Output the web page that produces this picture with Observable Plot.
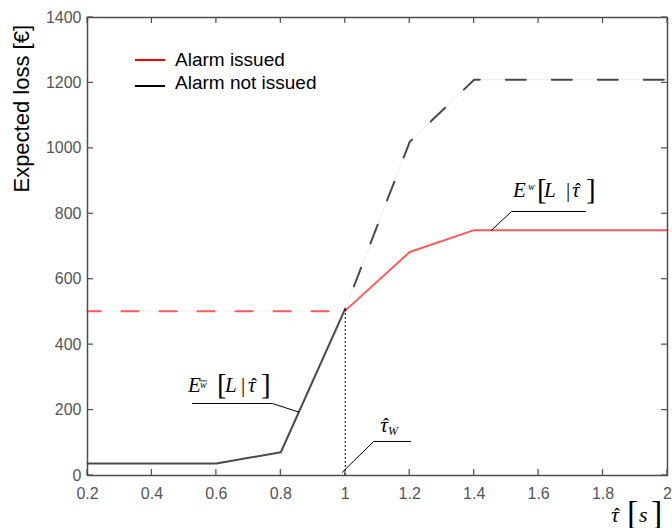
<!DOCTYPE html>
<html>
<head>
<meta charset="utf-8">
<script src="https://cdn.jsdelivr.net/npm/d3@7"></script>
<script src="https://cdn.jsdelivr.net/npm/@observablehq/plot@0.6"></script>
<style>
  body { margin: 0; background: #fff; }
  #chart { width: 672px; height: 528px; }
</style>
</head>
<body>
<div id="chart"></div>
<script>
// Expected loss [€] against the estimated time-to-event τ̂ [s]

// Alarm issued: constant loss before the threshold, rising after it
const issuedDashedTau = [0.2, 1.0];
const issuedDashedLoss = [502, 502];
const issuedTau = [1.0, 1.2, 1.4, 2.0];
const issuedLoss = [504, 683, 750, 750];

// Alarm not issued: low loss for early τ̂, climbing steeply past 0.8 s
const notIssuedTau = [0.2, 0.6, 0.8, 1.0];
const notIssuedLoss = [37, 37, 71, 510];
const notIssuedDashedTau = [1.0, 1.2, 1.4, 2.0];
const notIssuedDashedLoss = [510, 1020, 1210, 1210];

// Threshold τ̂_W where both curves meet
const thresholdTau = 1.0;
const thresholdLoss = 510;

const xTicks = [0.2, 0.4, 0.6, 0.8, 1, 1.2, 1.4, 1.6, 1.8, 2];
const yTicks = [0, 200, 400, 600, 800, 1000, 1200, 1400];

const legendItems = ["Alarm issued", "Alarm not issued"];
const legendColors = ["#ff0000", "#000000"];

const pts = (xs, ys) => xs.map((x, i) => ({x, y: ys[i]}));

const RED = "#ff5a5a";
const GREY = "#4a4a4a";
const AXIS = "#4d4d4d";

// leader lines from formula labels to the curves
const leaderIssued = pts([1.746, 1.516, 1.454], [807, 807, 750]);
const leaderNotIssued = pts([0.526, 0.774, 0.855], [220, 220, 194]);
const leaderThreshold = pts([1.203, 1.088, 0.991], [104, 104, 10]);

const W = 672, H = 528, ML = 87, MR = 5, MT = 17, MB = 53;
const xDomain = [0.2, 2], yDomain = [0, 1400];
const T = 6; // inward tick length

const chart = Plot.plot({
  width: W,
  height: H,
  marginLeft: ML,
  marginRight: MR,
  marginTop: MT,
  marginBottom: MB,
  x: {domain: xDomain, label: null},
  y: {domain: yDomain, label: null},
  style: {background: "#fff", fontFamily: "'Liberation Sans', Arial, sans-serif"},
  marks: [
    // faint trace visible in the gaps of the dashed segments
    Plot.line(pts(issuedDashedTau, issuedDashedLoss), {x: "x", y: "y", stroke: RED, strokeWidth: 0.8, strokeOpacity: 0.12}),
    Plot.line(pts(notIssuedDashedTau, notIssuedDashedLoss), {x: "x", y: "y", stroke: GREY, strokeWidth: 0.8, strokeOpacity: 0.12}),

    Plot.line(pts(issuedDashedTau, issuedDashedLoss), {x: "x", y: "y", stroke: RED, strokeWidth: 2, strokeDasharray: "17,21", strokeDashoffset: 4}),
    Plot.line(pts(issuedTau, issuedLoss), {x: "x", y: "y", stroke: RED, strokeWidth: 2}),
    Plot.line(pts(notIssuedDashedTau, notIssuedDashedLoss), {x: "x", y: "y", stroke: GREY, strokeWidth: 2, strokeDasharray: "20,26", strokeDashoffset: -24}),
    Plot.line(pts(notIssuedTau, notIssuedLoss), {x: "x", y: "y", stroke: GREY, strokeWidth: 2}),

    // threshold marker
    Plot.ruleX([thresholdTau], {y1: 0, y2: thresholdLoss, stroke: "#000", strokeWidth: 1, strokeDasharray: "2,2"}),

    // leaders
    Plot.line(leaderIssued, {x: "x", y: "y", stroke: "#000", strokeWidth: 1}),
    Plot.line(leaderNotIssued, {x: "x", y: "y", stroke: "#000", strokeWidth: 1}),
    Plot.line(leaderThreshold, {x: "x", y: "y", stroke: "#000", strokeWidth: 1}),

    Plot.axisX({ticks: xTicks, anchor: "bottom", tickSize: 0, tickPadding: 12, tickFormat: d => String(d), fill: "#555", fontSize: 16, label: null}),
    Plot.axisY({ticks: yTicks, anchor: "left", tickSize: 0, tickPadding: 6, tickFormat: d => String(d), fill: "#555", fontSize: 16, label: null}),
    Plot.frame({stroke: AXIS, strokeWidth: 1.5})
  ]
});

document.getElementById("chart").appendChild(chart);

const svg = d3.select(chart);
const sx = chart.scale("x");
const sy = chart.scale("y");
const SERIF = "'Liberation Serif', 'Times New Roman', serif";

// inward ticks on all four sides of the box, placed with the plot's scales
{
  const g = svg.append("g").attr("stroke", AXIS).attr("stroke-width", 1.2);
  const top = sy.apply(yDomain[1]), bottom = sy.apply(yDomain[0]);
  const left = sx.apply(xDomain[0]), right = sx.apply(xDomain[1]);
  for (const t of xTicks) {
    const x = sx.apply(t);
    g.append("line").attr("x1", x).attr("x2", x).attr("y1", bottom).attr("y2", bottom - T);
    g.append("line").attr("x1", x).attr("x2", x).attr("y1", top).attr("y2", top + T);
  }
  for (const t of yTicks) {
    const y = sy.apply(t);
    g.append("line").attr("x1", left).attr("x2", left + T).attr("y1", y).attr("y2", y);
    g.append("line").attr("x1", right).attr("x2", right - T).attr("y1", y).attr("y2", y);
  }
}

// y axis title
svg.append("text")
  .attr("transform", "translate(29,25) rotate(-90)")
  .attr("text-anchor", "end")
  .attr("font-family", "'Liberation Sans', Arial, sans-serif")
  .attr("font-size", 22)
  .attr("fill", "#000")
  .text("Expected loss [€]");

// legend
const lg = svg.append("g").attr("text-anchor", "start");
legendItems.forEach((label, i) => {
  const cy = i === 0 ? 60 : 86;
  lg.append("line").attr("x1", 135).attr("x2", 165).attr("y1", cy).attr("y2", cy)
    .attr("stroke", legendColors[i]).attr("stroke-width", 2);
  lg.append("text").attr("x", 175).attr("y", i === 0 ? 66 : 89)
    .attr("font-family", "'Liberation Sans', Arial, sans-serif")
    .attr("font-size", 19).attr("fill", "#000").text(label);
});

// formula pieces: [text, dx, dy, size, italic]
function formula(x0, y0, parts) {
  const g = svg.append("g").attr("font-family", SERIF).attr("fill", "#000").attr("text-anchor", "start");
  for (const [t, dx, dy, size, italic] of parts) {
    g.append("text").attr("x", x0 + dx).attr("y", y0 + dy)
      .attr("font-size", size).attr("font-style", italic ? "italic" : "normal")
      .text(t);
  }
  return g;
}
const HAT = "\u02C6";

// E^{w̄}[L | τ̂] next to the no-alarm curve
{
  const x0 = sx.apply(0.5135), y0 = sy.apply(254);
  const g = formula(x0, y0, [
    ["E", 0, 0, 21, true],
    ["w", 12, -4, 10, true],
    ["[", 29, 2, 29, false],
    ["L", 37, 0, 21, true],
    ["|", 53, 0, 21, false],
    ["τ", 60, 0, 21, true],
    [HAT, 63, -1, 18, false],
    ["]", 73, 2, 29, false]
  ]);
  g.append("line").attr("x1", x0 + 12).attr("x2", x0 + 19).attr("y1", y0 - 11).attr("y2", y0 - 11)
    .attr("stroke", "#000").attr("stroke-width", 0.8);
}

// E^{w}[L | τ̂] next to the alarm curve
formula(sx.apply(1.522), sy.apply(850), [
  ["E", 0, 0, 21, true],
  ["w", 15, -7, 10, true],
  ["[", 24, 2, 29, false],
  ["L", 31, 0, 21, true],
  ["|", 53, 0, 21, false],
  ["τ", 59, 0, 21, true],
  [HAT, 62, -1, 18, false],
  ["]", 73, 2, 29, false]
]);

// τ̂_W at the threshold
formula(sx.apply(1.109), sy.apply(131), [
  ["τ", 0, 0, 22, true],
  [HAT, 3, -1, 18, false],
  ["W", 8, 3, 12, true]
]);

// x axis title τ̂ [s]
formula(611, 522, [
  ["τ", 0, 0, 22, true],
  [HAT, 3, -1, 18, false],
  ["[", 16, 2, 34, false],
  ["s", 28, 0, 22, true],
  ["]", 40, 2, 34, false]
]);
</script>
</body>
</html>
